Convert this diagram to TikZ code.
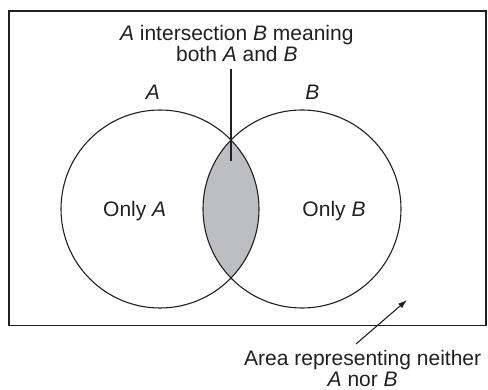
\documentclass[tikz,border=0pt]{standalone}
\usepackage{fontspec}
\setmainfont{Liberation Sans}
\usetikzlibrary{arrows.meta}
\definecolor{lensgray}{RGB}{189,190,194}
\definecolor{inkc}{RGB}{35,31,32}
\begin{document}
\begin{tikzpicture}[x=1pt,y=-1pt,
  lbl/.style={inner sep=0pt,font=\fontsize{21}{21}\selectfont,text=inkc},
  frame/.style={draw=inkc,line width=1.5pt},
  setline/.style={draw=inkc,line width=1.1pt},
  pointer/.style={draw=inkc,line width=1.1pt},
  arrowline/.style={draw=inkc,line width=1.1pt,-{Latex[length=9pt,width=6pt]}}]
\useasboundingbox (0,0) rectangle (488,390);
\coordinate (ca) at (160,209);
\coordinate (cb) at (302,209);
\coordinate (lensmark) at (231,161);
\coordinate (arrowtail) at (356,344);
\coordinate (arrowtip) at (407,300);
% universe
\draw[frame] (9,11) rectangle (486,325.5);
% lens
\begin{scope}
  \clip (ca) circle (99);
  \fill[lensgray] (cb) circle (99);
\end{scope}
\draw[setline] (ca) circle (99);
\draw[setline] (cb) circle (99);
% labels
\node[lbl,anchor=base] (la) at (153,100) {\textit{A}};
\node[lbl,anchor=base] (lb) at (312.5,100) {\textit{B}};
\node[lbl,anchor=base] (onlya) at (134.7,216.5) {Only \textit{A}};
\node[lbl,anchor=base] (onlyb) at (334,216.5) {Only \textit{B}};
\node[lbl,anchor=north,align=center] (top) at (236.8,25)
  {\textit{A} intersection \textit{B} meaning\\both \textit{A} and \textit{B}};
\node[lbl,anchor=north,align=center] (bottom) at (362.7,350.5)
  {Area representing neither\\\textit{A} nor \textit{B}};
% connectors
\draw[pointer] ([yshift=-7pt]lensmark |- top.south) -- (lensmark);
\draw[arrowline] (arrowtail) -- (arrowtip);
\end{tikzpicture}
\end{document}
